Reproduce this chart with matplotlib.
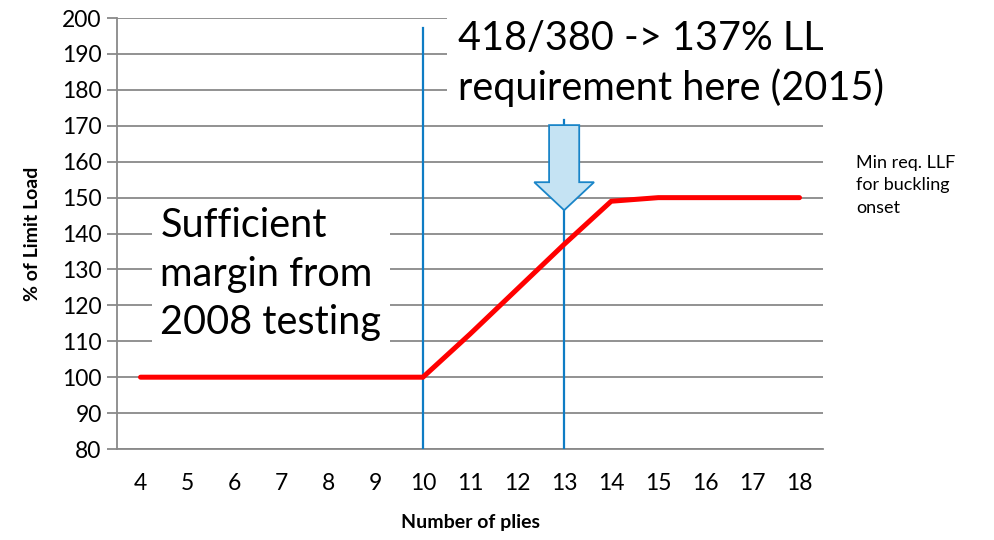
import matplotlib.pyplot as plt
from matplotlib.patches import FancyArrow

# data
plies = [4, 5, 6, 7, 8, 9, 10, 11, 12, 13, 14, 15, 16, 17, 18]
pct_limit_load = [100, 100, 100, 100, 100, 100, 100, 112, 124.5, 137, 149, 150, 150, 150, 150]
yticks = list(range(80, 201, 10))

plt.rcParams['font.family'] = ['Lato', 'DejaVu Sans']

fig = plt.figure(figsize=(9.94, 5.40), dpi=100)
ax = fig.add_axes([0.1177, 0.1685, 0.7103, 0.798])

grid_c = '#898989'
blue = '#0e7cc4'

ax.set_xlim(3.5, 18.5)
ax.set_ylim(80, 200)
ax.set_yticks(yticks)
ax.set_xticks(plies)
ax.grid(axis='y', color=grid_c, lw=1.3, zorder=0)
ax.set_axisbelow(True)
for s in ['top', 'right']:
    ax.spines[s].set_visible(False)
ax.spines['left'].set_color(grid_c)
ax.spines['bottom'].set_color(grid_c)
ax.spines['left'].set_linewidth(1.3)
ax.spines['bottom'].set_linewidth(1.3)
ax.tick_params(axis='y', length=7, width=1.3, color=grid_c, labelsize=16.5, pad=4)
ax.tick_params(axis='x', length=0, labelsize=16.5, pad=17)

ax.set_xlabel('Number of plies', fontsize=14, fontweight='bold', labelpad=15)
ax.set_ylabel('% of Limit Load', fontsize=14, fontweight='bold', labelpad=15)

# text boxes (white background hides the gridlines)
ax.text(4.42, 147.3, 'Sufficient\nmargin from\n2008 testing', fontsize=28.5,
        va='top', ha='left', linespacing=1.38, zorder=2,
        bbox=dict(facecolor='white', edgecolor='none', pad=6))
ax.text(10.75, 199.5, '418/380 -> 137% LL\nrequirement here (2015)', fontsize=28.5,
        va='top', ha='left', linespacing=1.35, zorder=2, clip_on=False,
        bbox=dict(facecolor='white', edgecolor='none', pad=8))

# vertical marker lines
ax.plot([10, 10], [80, 197.2], color=blue, lw=1.6, zorder=3)
ax.plot([13, 13], [80, 171.7], color=blue, lw=1.6, zorder=3)

ax.plot(plies, pct_limit_load, color='#ff0000', lw=3.6, solid_capstyle='round', zorder=4)

arrow = FancyArrow(13, 170.2, 0, -23.7, width=0.64, head_width=1.27, head_length=7.8,
                   length_includes_head=True, facecolor='#c5e3f3', edgecolor='#1a85c8',
                   lw=1.3, zorder=5)
ax.add_patch(arrow)

fig.text(0.861, 0.713, 'Min req. LLF\nfor buckling\nonset', fontsize=13,
         va='top', ha='left', linespacing=1.5)

fig.savefig('out.png', dpi=100)
